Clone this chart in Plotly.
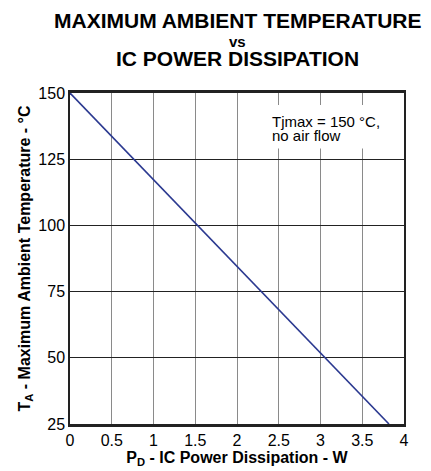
import plotly.graph_objects as go

# derating curve: Tjmax 150 C, no air flow
pd_watts = [0, 3.82]
ta_degc = [150, 25]

x_ticks = [0, 0.5, 1, 1.5, 2, 2.5, 3, 3.5, 4]
x_labels = ["0", "0.5", "1", "1.5", "2", "2.5", "3", "3.5", "4"]
y_ticks = [25, 50, 75, 100, 125, 150]

FONT = "Liberation Sans, Arial, sans-serif"

fig = go.Figure()
fig.add_trace(go.Scatter(x=pd_watts, y=ta_degc, mode="lines",
                         line=dict(color="#2b3990", width=1.6),
                         showlegend=False, hoverinfo="skip"))

# page shows the plot 8px in from the corner, so size/margins allow for that
fig.update_layout(
    width=423, height=463,
    margin=dict(l=62, r=27, t=85, b=47),
    paper_bgcolor="white", plot_bgcolor="white",
    font=dict(family=FONT, color="black", size=16),
)

fig.update_xaxes(range=[0, 4], tickvals=x_ticks, ticktext=x_labels,
                 showgrid=True, gridcolor="#8a8a8a", gridwidth=1,
                 showline=True, linecolor="#222", linewidth=2.5, mirror=True,
                 ticks="", zeroline=False, tickfont=dict(size=16),
                 title=dict(text="<b>P<sub>D</sub> - IC Power Dissipation - W</b>",
                            font=dict(size=16), standoff=0))
fig.update_yaxes(range=[25, 150], tickvals=y_ticks,
                 showgrid=True, gridcolor="#222", gridwidth=1.4,
                 showline=True, linecolor="#222", linewidth=1.5, mirror=True,
                 ticks="", zeroline=False, tickfont=dict(size=16),
                 title=dict(text="<b>T<sub>A</sub> - Maximum Ambient Temperature - °C</b>",
                            font=dict(size=16), standoff=4))

# title lines
fig.add_annotation(text="<b>MAXIMUM AMBIENT TEMPERATURE</b>", xref="paper", yref="paper",
                   x=0.5, y=1, yanchor="middle", yshift=73, showarrow=False, font=dict(size=21))
fig.add_annotation(text="<b>vs</b>", xref="paper", yref="paper",
                   x=0.5, y=1, yanchor="middle", yshift=52, showarrow=False, font=dict(size=15))
fig.add_annotation(text="<b>IC POWER DISSIPATION</b>", xref="paper", yref="paper",
                   x=0.5, y=1, yanchor="middle", yshift=35, showarrow=False, font=dict(size=21))

# note with white box over the grid
fig.add_shape(type="rect", x0=2.35, x1=3.75, y0=129.0, y1=145.5,
              fillcolor="white", line=dict(width=0), layer="above")
fig.add_annotation(text="Tjmax = 150 °C,", x=2.4, y=139.3, xanchor="left", yanchor="middle",
                   showarrow=False, font=dict(size=15))
fig.add_annotation(text="no air flow", x=2.4, y=134.0, xanchor="left", yanchor="middle",
                   showarrow=False, font=dict(size=15))

fig.write_html("out.html")
